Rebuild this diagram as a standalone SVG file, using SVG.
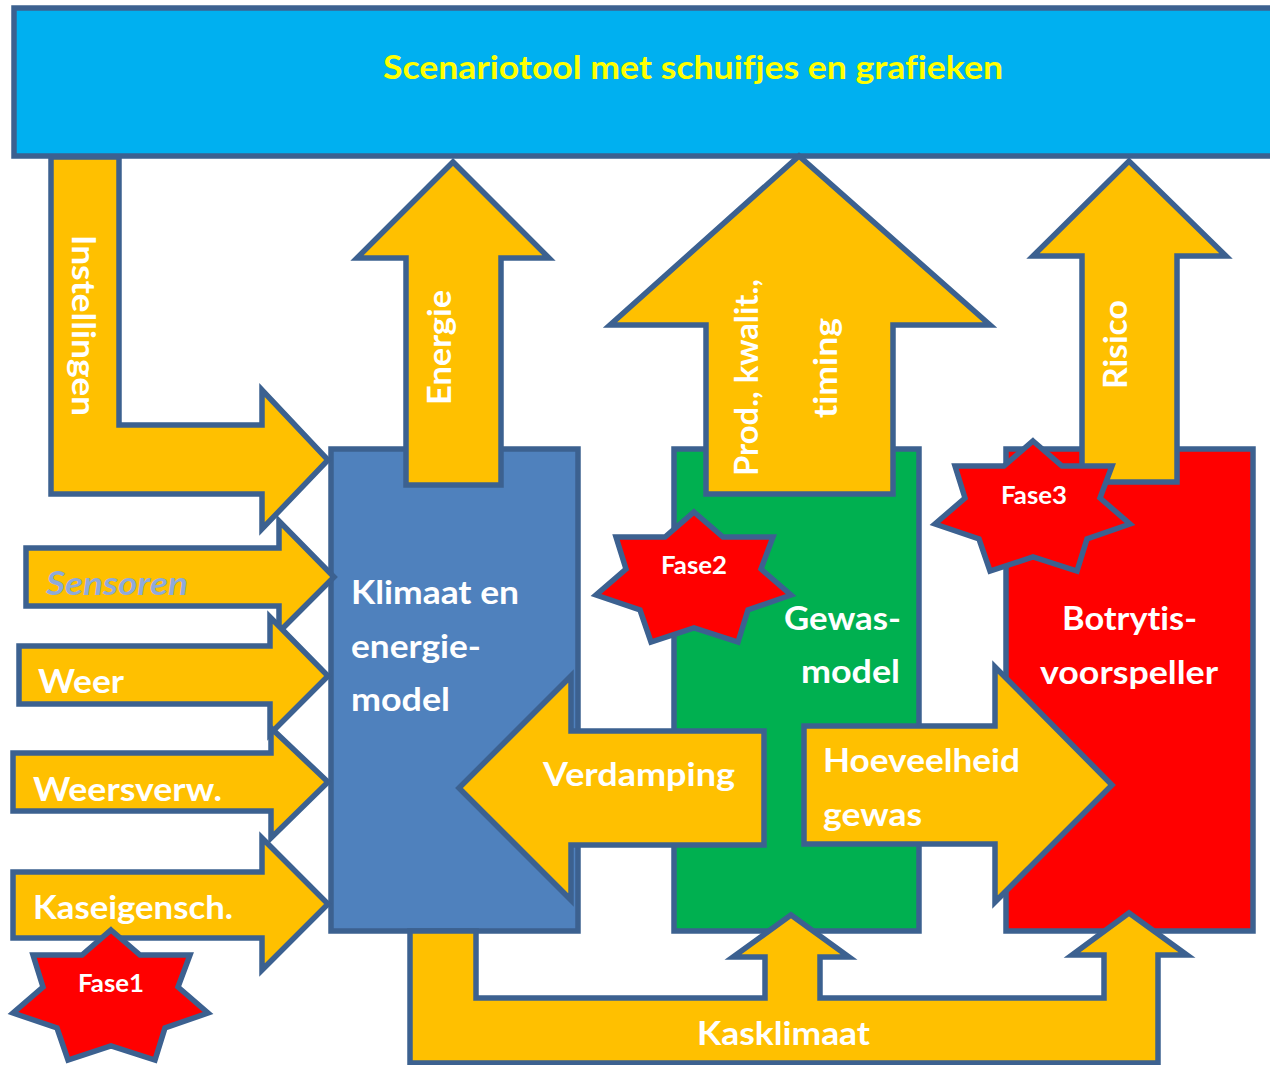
<svg xmlns="http://www.w3.org/2000/svg" xmlns:xlink="http://www.w3.org/1999/xlink" width="1270" height="1065" viewBox="0 0 1270 1065">
<style>
.s{stroke:#3c6190;stroke-width:5.5;stroke-linejoin:miter;stroke-miterlimit:10}
.a{fill:#ffc000}
text{font-family:"Lato","Open Sans","Liberation Sans",sans-serif;font-weight:700;fill:#fff;font-size:32px;font-variant-ligatures:none}
.f{font-size:24px;text-anchor:middle}
</style>
<defs>
<polygon id="star" class="s" fill="#ff0000" stroke-linejoin="round" points="111,930 140,955 190,955 178,987 208,1013 165,1028 155,1060 111,1046 68,1060 57,1028 13,1013 43,987 33,955 82,955"/>
</defs>
<rect width="1270" height="1065" fill="#fff"/>
<g id="scenariotool">
<rect class="s" x="14" y="8" width="1270" height="148" fill="#00b0f0"/>
<text x="693" y="79" text-anchor="middle" style="fill:#ffff00" textLength="620" lengthAdjust="spacingAndGlyphs">Scenariotool met schuifjes en grafieken</text>
</g>
<g id="klimaat">
<rect class="s" x="331" y="449" width="247" height="482" fill="#4f81bd"/>
<text x="351" y="604" textLength="168" lengthAdjust="spacingAndGlyphs">Klimaat en</text>
<text x="351" y="658" textLength="130" lengthAdjust="spacingAndGlyphs">energie-</text>
<text x="351" y="711" textLength="99" lengthAdjust="spacingAndGlyphs">model</text>
</g>
<g id="gewas">
<rect class="s" x="674" y="449" width="245" height="482" fill="#00b050"/>
<text x="784" y="630" textLength="117" lengthAdjust="spacingAndGlyphs">Gewas-</text>
<text x="801" y="683" textLength="99" lengthAdjust="spacingAndGlyphs">model</text>
</g>
<g id="botrytis">
<rect class="s" x="1006" y="449" width="247" height="482" fill="#ff0000"/>
<text x="1062" y="630" textLength="135" lengthAdjust="spacingAndGlyphs">Botrytis-</text>
<text x="1040" y="684" textLength="178" lengthAdjust="spacingAndGlyphs">voorspeller</text>
</g>
<g id="connectors">
<g id="kasklimaat">
<polygon class="s a" points="410,931 476,931 476,998 765,998 765,957 733,957 791,915 849,957 820,957 820,998 1104,998 1104,955 1072,955 1129,913 1187,955 1158,955 1158,1063 410,1063"/>
<text x="697" y="1045" textLength="173" lengthAdjust="spacingAndGlyphs">Kasklimaat</text>
</g>
<g id="instellingen">
<polygon class="s a" points="51,157 119,157 119,425 262,425 262,390 328,460 262,529 262,494 51,494"/>
<text transform="translate(72,235) rotate(90)" textLength="181" lengthAdjust="spacingAndGlyphs">Instellingen</text>
</g>
<g id="sensoren">
<polygon class="s a" points="26,548 279,548 279,521 334,577 279,632 279,606 26,606"/>
<text x="46" y="595" font-style="italic" style="fill:#8eaadb" textLength="142" lengthAdjust="spacingAndGlyphs">Sensoren</text>
</g>
<g id="weer">
<polygon class="s a" points="19,646 270,646 270,617 328,676 270,734 270,704 19,704"/>
<text x="38" y="693" textLength="86" lengthAdjust="spacingAndGlyphs">Weer</text>
</g>
<g id="weersverw">
<polygon class="s a" points="13,753 271,753 271,728 328,782 271,838 271,811 13,811"/>
<text x="33" y="801" textLength="189" lengthAdjust="spacingAndGlyphs">Weersverw.</text>
</g>
<g id="kaseigensch">
<polygon class="s a" points="13,872 262,872 262,838 328,904 262,970 262,938 13,938"/>
<text x="33" y="919" textLength="200" lengthAdjust="spacingAndGlyphs">Kaseigensch.</text>
</g>
<g id="energie">
<polygon class="s a" points="406,485 406,258 357,258 453,162 549,258 501,258 501,485"/>
<text transform="translate(451,405) rotate(-90)" textLength="115" lengthAdjust="spacingAndGlyphs">Energie</text>
</g>
<g id="productie">
<polygon class="s a" points="706,494 706,325 610,325 799,156 990,325 893,325 893,494"/>
<text transform="translate(758,476) rotate(-90)" textLength="197" lengthAdjust="spacingAndGlyphs">Prod., kwalit.,</text>
<text transform="translate(837,418) rotate(-90)" textLength="100" lengthAdjust="spacingAndGlyphs">timing</text>
</g>
<g id="risico">
<polygon class="s a" points="1082,482 1082,256 1033,256 1129,161 1226,256 1177,256 1177,482"/>
<text transform="translate(1127,389) rotate(-90)" textLength="89" lengthAdjust="spacingAndGlyphs">Risico</text>
</g>
<g id="verdamping">
<polygon class="s a" points="459,788 571,676 571,731 764,731 764,845 571,845 571,900"/>
<text x="543" y="786" textLength="192" lengthAdjust="spacingAndGlyphs">Verdamping</text>
</g>
<g id="hoeveelheid">
<polygon class="s a" points="804,726 995,726 995,667 1112,785 995,902 995,844 804,844"/>
<text x="823" y="772" textLength="197" lengthAdjust="spacingAndGlyphs">Hoeveelheid</text>
<text x="823" y="826" textLength="99" lengthAdjust="spacingAndGlyphs">gewas</text>
</g>
</g>
<g id="fase1">
<use href="#star"/>
<text class="f" x="111" y="992" textLength="66" lengthAdjust="spacingAndGlyphs">Fase1</text>
</g>
<g id="fase2">
<use href="#star" transform="translate(583,-418)"/>
<text class="f" x="694" y="574" textLength="66" lengthAdjust="spacingAndGlyphs">Fase2</text>
</g>
<g id="fase3">
<use href="#star" transform="translate(922,-489)"/>
<text class="f" x="1034" y="504" textLength="66" lengthAdjust="spacingAndGlyphs">Fase3</text>
</g>
</svg>
